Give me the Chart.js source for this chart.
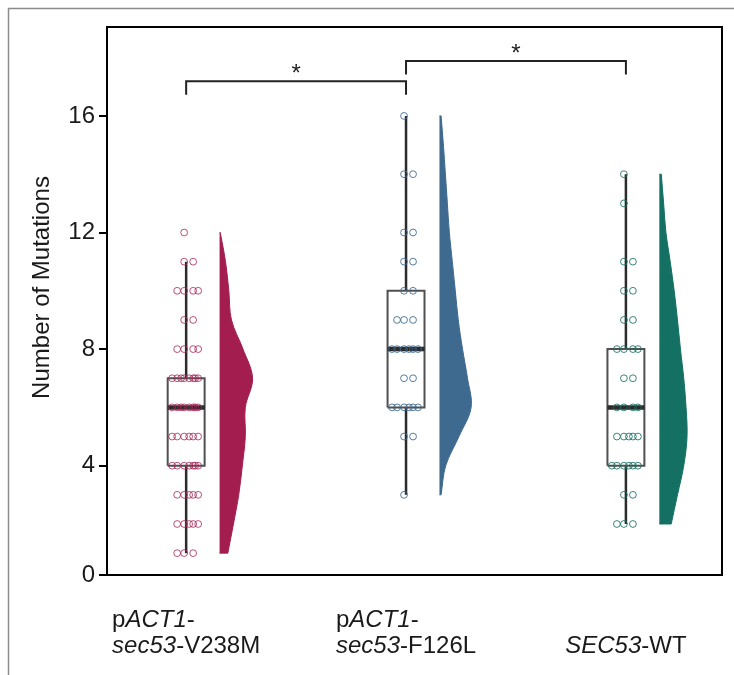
<!DOCTYPE html>
<html>
<head>
<meta charset="utf-8">
<script src="https://cdn.jsdelivr.net/npm/chart.js@4.4.1/dist/chart.umd.min.js"></script>
<style>
  html, body { margin: 0; padding: 0; background: #fff; }
  #wrap { width: 734px; height: 675px; }
</style>
</head>
<body>
<div id="wrap"><canvas id="mutChart" width="734" height="675"></canvas></div>
<script>
// strains, drawn left to right at x = 1, 2, 3 (<i> = italic, \n = new line)
const strains = [
  'p<i>ACT1</i>-\n<i>sec53</i>-V238M',
  'p<i>ACT1</i>-\n<i>sec53</i>-F126L',
  '<i>SEC53</i>-WT'
];

// mutations counted per clone
const v238m = [1,1,1, 2,2,2,2,2, 3,3,3,3,3, 4,4,4,4,4,4,4, 5,5,5,5,5,5,
  6,6,6,6,6,6,6,6, 7,7,7,7,7,7,7,7, 8,8,8,8, 9,9, 10,10,10,10, 11,11, 12];
const f126l = [3, 5,5, 6,6,6,6,6,6, 7,7, 8,8,8,8,8,8, 9,9,9, 10,10, 11,11,
  12,12, 14,14, 16];
const wt = [2,2,2, 3,3, 4,4,4,4,4,4, 5,5,5,5,5, 6,6,6,6, 7,7, 8,8,8,8,
  9,9, 10,10, 11,11, 13, 14];

// box plot stats
const q1 = [4, 6, 4];
const median = [6, 8, 6];
const q3 = [7, 10, 8];
const whiskerLow = [1, 3, 2];
const whiskerHigh = [11, 16, 14];

// half violin density (relative), one value per integer step from violinFrom
const violinFrom = [1, 3, 2];
const v238mDensity = [0.25, 0.42, 0.58, 0.69, 0.78, 0.78, 1.0, 0.71, 0.36, 0.28, 0.18, 0.02];
const f126lDensity = [0.05, 0.19, 0.59, 0.96, 0.85, 0.70, 0.57, 0.48, 0.39, 0.30, 0.24, 0.18, 0.12, 0.05];
const wtDensity = [0.36, 0.55, 0.74, 0.84, 0.81, 0.74, 0.64, 0.55, 0.45, 0.33, 0.20, 0.13, 0.06];

// significance brackets
const sigPairs = [[1, 2], [2, 3]];
const sigLevel = [17.19, 17.88];
const sigLabel = ['*', '*'];

// y axis: the lowest tick sits on the axis floor
const yTickValues = [0.25, 4, 8, 12, 16];
const yTickLabels = ['0', '4', '8', '12', '16'];

const groupData = [v238m, f126l, wt];
const densities = [v238mDensity, f126lDensity, wtDensity];

const VIOLIN_COLORS = ['#a31d4f', '#3e6a90', '#147062'];
const POINT_COLORS = ['rgba(168,38,88,0.8)', 'rgba(58,102,142,0.85)', 'rgba(22,112,98,0.85)'];
const FONT = '"Liberation Sans", Arial, sans-serif';

const X_MIN = 0.64, X_MAX = 3.437;
const Y_MIN = 0.25, Y_MAX = 19.05;
const BOX_HALF = 0.084;
const VIOLIN_GAP = 0.152;
const VIOLIN_W = 0.150;
const DROP = 0.46;
const JITTER_PX = [-2, 7, -9, 12, 3, -14, 9, -5, 15, -11];

const datasets = [];

groupData.forEach((vals, g) => {
  const gx = g + 1;
  const seen = {};
  // jittered clones
  datasets.push({
    data: vals.map(v => {
      const k = seen[v] = (seen[v] ?? -1) + 1;
      return { x: gx + JITTER_PX[k % JITTER_PX.length] / 219.7, y: v };
    }),
    pointRadius: 3.4,
    pointBorderWidth: 1,
    pointBorderColor: POINT_COLORS[g],
    pointBackgroundColor: 'rgba(0,0,0,0)',
    showLine: false,
    order: 0
  });

  // median bar
  datasets.push({
    data: [{ x: gx - BOX_HALF, y: median[g] }, { x: gx + BOX_HALF, y: median[g] }],
    showLine: true, borderColor: '#2b2b2b', borderWidth: 4.5, pointRadius: 0,
    borderCapStyle: 'butt', order: 1
  });

  // box
  datasets.push({
    data: [
      { x: gx - BOX_HALF, y: q1[g] }, { x: gx + BOX_HALF, y: q1[g] },
      { x: gx + BOX_HALF, y: q3[g] }, { x: gx - BOX_HALF, y: q3[g] },
      { x: gx - BOX_HALF, y: q1[g] }
    ],
    showLine: true, borderColor: '#505050', borderWidth: 2, pointRadius: 0,
    fill: 'shape', backgroundColor: '#ffffff', order: 2
  });

  // whisker
  datasets.push({
    data: [{ x: gx, y: whiskerLow[g] }, { x: gx, y: whiskerHigh[g] }],
    showLine: true, borderColor: '#2b2b2b', borderWidth: 2.5, pointRadius: 0,
    order: 3
  });

  // half violin to the right of the box; end vertices are doubled so the
  // flat ends keep sharp corners under the spline
  const base = gx + VIOLIN_GAP;
  const dens = densities[g];
  const from = violinFrom[g];
  const edge = dens.map((d, i) => ({ x: base + d * VIOLIN_W, y: from + i }));
  const outline = [
    { x: base, y: from },
    edge[0], ...edge, edge[edge.length - 1],
    { x: base, y: from + dens.length - 1 }
  ];
  datasets.push({
    data: outline,
    showLine: true, borderColor: VIOLIN_COLORS[g], borderWidth: 1,
    backgroundColor: VIOLIN_COLORS[g], fill: 'shape', tension: 0.35,
    pointRadius: 0, order: 4
  });
});

sigPairs.forEach(([a, b], i) => {
  datasets.push({
    data: [
      { x: a, y: sigLevel[i] - DROP }, { x: a, y: sigLevel[i] },
      { x: b, y: sigLevel[i] }, { x: b, y: sigLevel[i] - DROP }
    ],
    showLine: true, borderColor: '#222', borderWidth: 2, pointRadius: 0, order: 1
  });
});

function parseRich(line) {
  return line.split(/(<i>.*?<\/i>)/).filter(s => s).map(s => {
    const it = s.startsWith('<i>');
    return { text: it ? s.slice(3, -4) : s, italic: it };
  });
}

const decor = {
  id: 'decor',
  beforeDraw(chart) {
    const ctx = chart.ctx;
    ctx.save();
    ctx.fillStyle = '#fff';
    ctx.fillRect(0, 0, chart.width, chart.height);
    ctx.strokeStyle = '#8c8c8c';
    ctx.lineWidth = 1.5;
    ctx.beginPath();
    ctx.moveTo(8.5, chart.height);
    ctx.lineTo(8.5, 8.5);
    ctx.lineTo(chart.width, 8.5);
    ctx.stroke();
    ctx.restore();
  },
  afterDraw(chart) {
    const { ctx, chartArea: ca, scales: { x, y } } = chart;
    ctx.save();
    // plot frame
    ctx.strokeStyle = '#000';
    ctx.lineWidth = 2;
    ctx.strokeRect(ca.left, ca.top, ca.right - ca.left, ca.bottom - ca.top);

    // significance stars
    ctx.fillStyle = '#222';
    ctx.font = '24px ' + FONT;
    ctx.textAlign = 'center';
    ctx.textBaseline = 'alphabetic';
    sigPairs.forEach(([a, b], i) => {
      ctx.fillText(sigLabel[i], x.getPixelForValue((a + b) / 2), y.getPixelForValue(sigLevel[i]) - 0.5);
    });

    // strain labels: block centred under the group, lines left aligned
    ctx.fillStyle = '#1a1a1a';
    ctx.textAlign = 'left';
    strains.forEach((lab, g) => {
      const lines = lab.split('\n').map(parseRich);
      const widths = lines.map(segs => segs.reduce((w, s) => {
        ctx.font = (s.italic ? 'italic ' : '') + '24px ' + FONT;
        return w + ctx.measureText(s.text).width;
      }, 0));
      const left = x.getPixelForValue(g + 1) - Math.max(...widths) / 2;
      lines.forEach((segs, li) => {
        let cx = left;
        const by = 653 - (lines.length - 1 - li) * 26;
        segs.forEach(s => {
          ctx.font = (s.italic ? 'italic ' : '') + '24px ' + FONT;
          ctx.fillText(s.text, cx, by);
          cx += ctx.measureText(s.text).width;
        });
      });
    });

    // y axis title
    ctx.translate(42.5, 287.5);
    ctx.rotate(-Math.PI / 2);
    ctx.textAlign = 'center';
    ctx.textBaseline = 'middle';
    ctx.font = '24px ' + FONT;
    ctx.fillText('Number of Mutations', 0, 0);
    ctx.restore();
  }
};

new Chart(document.getElementById('mutChart'), {
  type: 'scatter',
  data: { datasets },
  options: {
    responsive: false,
    animation: false,
    events: [],
    layout: { padding: { left: 0, top: 27, right: 12, bottom: 100 } },
    plugins: { legend: { display: false }, tooltip: { enabled: false } },
    scales: {
      x: {
        type: 'linear', min: X_MIN, max: X_MAX, display: false
      },
      y: {
        type: 'linear', min: Y_MIN, max: Y_MAX,
        afterFit: s => { s.width = 107; },
        afterBuildTicks: s => { s.ticks = yTickValues.map(v => ({ value: v })); },
        border: { display: false },
        grid: {
          drawOnChartArea: false, drawTicks: true, tickLength: 8,
          color: '#000', lineWidth: 2
        },
        ticks: {
          padding: 4,
          color: '#1a1a1a',
          font: { family: FONT, size: 24 },
          callback: (v, i) => yTickLabels[i]
        }
      }
    }
  },
  plugins: [decor]
});
</script>
</body>
</html>
